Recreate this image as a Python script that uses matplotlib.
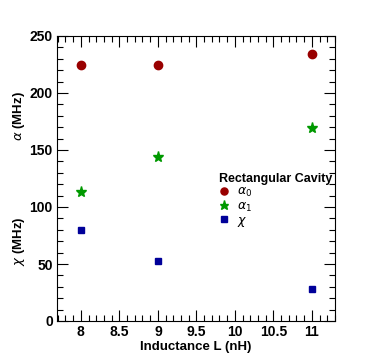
import numpy as np
import matplotlib
matplotlib.use("Agg")
import matplotlib.pyplot as plt
from matplotlib.ticker import MultipleLocator

# datos
L_nH = [8, 9, 11]
alpha0 = [225, 225, 234]
alpha1 = [113, 144, 169]
chi = [80, 53, 28]

plt.rcParams['font.family'] = ['Liberation Sans', 'DejaVu Sans']
plt.rcParams['mathtext.fontset'] = 'dejavusans'

fig = plt.figure(figsize=(3.74, 3.57), dpi=100)
ax = fig.add_axes([57/374, 1-321/357, (335-57)/374, (321-36)/357])

ax.plot(L_nH, alpha0, 'o', color='#990000', ms=6, label=r'$\alpha_0$')
ax.plot(L_nH, alpha1, '*', color='#009900', ms=8, label=r'$\alpha_1$')
ax.plot(L_nH, chi, 's', color='#000099', ms=4.5, label=r'$\chi$')

ax.set_ylim(0, 250)
ax.xaxis.set_minor_locator(MultipleLocator(0.1))
ax.yaxis.set_minor_locator(MultipleLocator(10))
ax.tick_params(which='both', direction='in', top=True, right=True, width=0.8)
ax.tick_params(which='major', length=8, labelsize=10, pad=3)
ax.tick_params(which='minor', length=4)
xt = [8, 8.5, 9, 9.5, 10, 10.5, 11]
ax.set_xticks(xt)
ax.set_xticklabels(['%g' % v for v in xt], fontweight='bold')
ax.set_xlim(7.69, 11.3)
ax.set_yticks([0, 50, 100, 150, 200, 250])
ax.set_yticklabels(['0', '50', '100', '150', '200', '250'], fontweight='bold')

ax.set_xlabel('Inductance L (nH)', fontsize=9.5, fontweight='bold', labelpad=1)

# dos titulos en el eje y
fig.text(19/374, 1-116/357, r'$\alpha$ (MHz)', rotation=90, fontsize=9.5,
         fontweight='bold', ha='center', va='center')
fig.text(19/374, 1-241/357, r'$\chi$ (MHz)', rotation=90, fontsize=9.5,
         fontweight='bold', ha='center', va='center')

leg = ax.legend(title='Rectangular Cavity', loc='upper left',
                bbox_to_anchor=(0.584, 0.52), frameon=False, fontsize=9,
                handlelength=0.8, handletextpad=0.6, labelspacing=0.1,
                borderaxespad=0, borderpad=0, alignment='left',
                markerscale=0.85)
leg.get_title().set_fontweight('bold')
leg.get_title().set_fontsize(9)

fig.savefig('out.png', dpi=100)
